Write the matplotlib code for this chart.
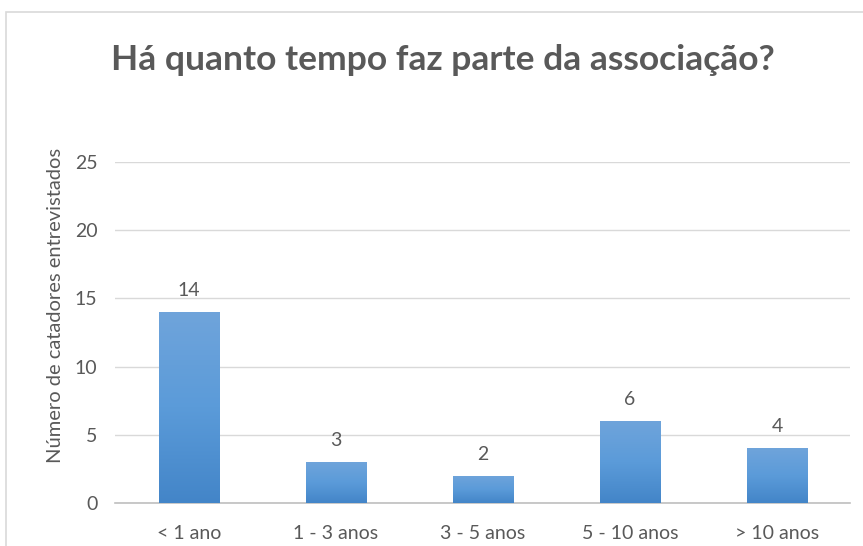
import numpy as np
import matplotlib.pyplot as plt
from matplotlib.patches import Rectangle
from matplotlib.colors import LinearSegmentedColormap

categorias = ['< 1 ano', '1 - 3 anos', '3 - 5 anos', '5 - 10 anos', '> 10 anos']
valores = [14, 3, 2, 6, 4]
yticks = [0, 5, 10, 15, 20, 25]

plt.rcParams['font.family'] = ['Lato', 'DejaVu Sans']
cinza = '#595959'

fig = plt.figure(figsize=(8.63, 5.46), dpi=100)
ax = fig.add_axes([0.1338, 0.0788, 0.8517, 0.6245])

# moldura do grafico (cortada na direita e em baixo)
fig.patches.append(Rectangle((6 / 863, -0.1), 1.2, 1.1 - 12 / 546,
                             transform=fig.transFigure, fill=False,
                             edgecolor='#d9d9d9', linewidth=1.2))

x = np.arange(len(categorias))
larg = 0.41
bars = ax.bar(x, valores, width=larg, color='none', zorder=3)

# gradiente azul em cada barra
grad = np.linspace(0, 1, 256).reshape(-1, 1)
cmap = LinearSegmentedColormap.from_list('azul', ['#4385c8', '#5b9bd9', '#6fa4db'])
for b, v in zip(bars, valores):
    bx, by = b.get_x(), b.get_y()
    w, h = b.get_width(), b.get_height()
    # sombra leve
    ax.add_patch(Rectangle((bx + 0.008, by), w, h - 0.05, facecolor='#c8c8c8',
                           edgecolor='none', alpha=0.5, zorder=2))
    im = ax.imshow(grad, extent=(bx, bx + w, by, by + h), aspect='auto',
                   cmap=cmap, origin='lower', zorder=3)
    im.set_clip_path(b)
    ax.text(bx + w / 2, h + 0.95, str(v),
            ha='center', va='bottom', fontsize=14, color=cinza)

ax.set_xlim(-0.5, len(categorias) - 0.5)
ax.set_ylim(0, 25)
ax.set_yticks(yticks)
ax.set_xticks(x)
ax.set_xticklabels(categorias)
ax.tick_params(axis='both', length=0, labelsize=14, colors=cinza)
ax.tick_params(axis='x', pad=16)
ax.tick_params(axis='y', pad=13)
ax.grid(axis='y', color='#d9d9d9', linewidth=1, zorder=0)
ax.set_axisbelow(True)
for s in ['top', 'right', 'left']:
    ax.spines[s].set_visible(False)
ax.spines['bottom'].set_color('#bfbfbf')
ax.spines['bottom'].set_linewidth(1.2)

ax.set_ylabel('Número de catadores entrevistados', fontsize=14.5, color=cinza,
              va='center', ha='center')
ax.yaxis.set_label_coords(-0.082, 0.578)

fig.text(0.513, 0.89, 'Há quanto tempo faz parte da associação?', ha='center', va='center',
         fontsize=25.5, fontweight='bold', color=cinza)

fig.savefig('out.png', dpi=100)
